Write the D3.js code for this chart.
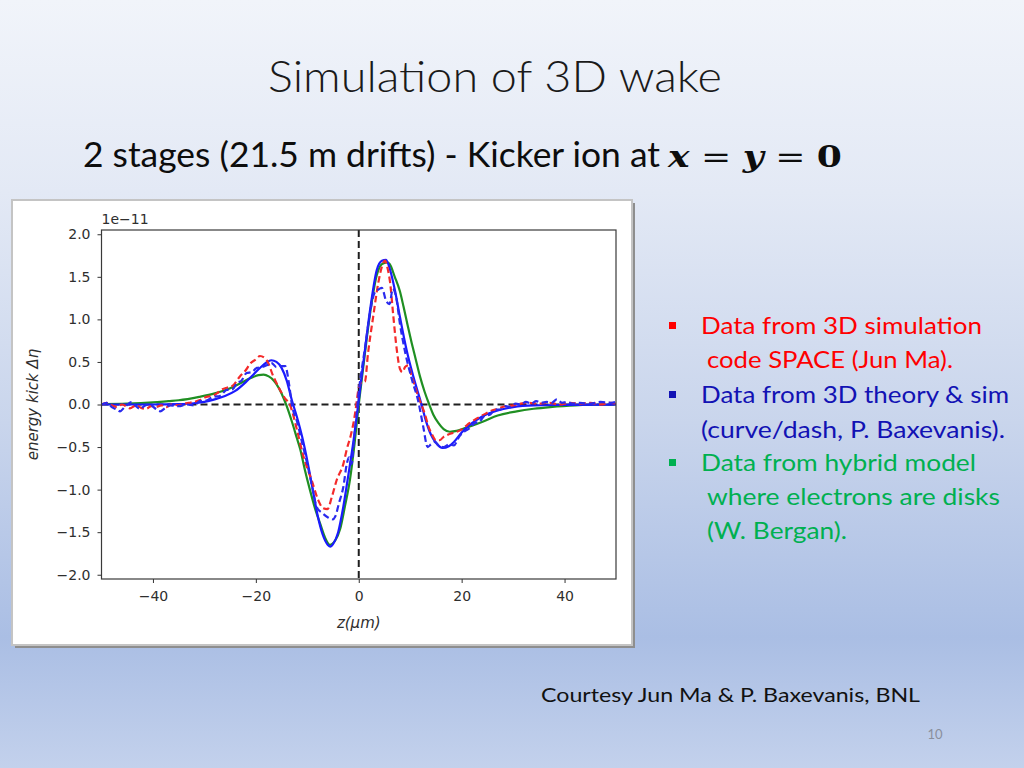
<!DOCTYPE html>
<html>
<head>
<meta charset="utf-8">
<script src="https://cdn.jsdelivr.net/npm/d3@7"></script>
<style>
  html, body { margin: 0; padding: 0; }
  body { width: 1024px; height: 768px; overflow: hidden; }
</style>
</head>
<body>
<svg id="slide" width="1024" height="768"></svg>
<script>
// ---------------- DATA ----------------
const xTicks = [-40, -20, 0, 20, 40];
const yTicks = [-2.0, -1.5, -1.0, -0.5, 0.0, 0.5, 1.0, 1.5, 2.0];

// Green solid: hybrid model (W. Bergan)
const hybridModel = [[-50,0.005],[-45,0.01],[-40,0.025],[-37,0.04],[-35,0.05],[-31,0.09],[-28,0.13],[-25,0.19],[-23,0.25],[-21,0.31],[-19.5,0.345],[-18.5,0.35],[-17.5,0.33],[-16.5,0.28],[-16,0.24],[-15,0.13],[-14,-0.02],[-13,-0.2],[-12,-0.4],[-11.4,-0.52],[-10.5,-0.76],[-9.5,-1.0],[-8.5,-1.22],[-7.5,-1.4],[-6.5,-1.57],[-5.6,-1.65],[-4.6,-1.6],[-3.6,-1.46],[-2.7,-1.2],[-1.7,-0.88],[-0.8,-0.45],[0,0.0],[0.5,0.25],[1.2,0.6],[2.2,1.07],[3.5,1.52],[4.5,1.65],[5.5,1.67],[6,1.65],[7,1.5],[8,1.33],[8.7,1.15],[9.5,0.93],[10.3,0.72],[11,0.55],[11.9,0.33],[12.8,0.15],[13.7,0.0],[14.5,-0.12],[15.5,-0.22],[16.5,-0.29],[17.7,-0.32],[19,-0.31],[20.5,-0.28],[22,-0.25],[24.2,-0.2],[27,-0.13],[30.7,-0.08],[34,-0.05],[37.2,-0.03],[42,-0.01],[50,0.0]];

// Blue solid: 3D theory (P. Baxevanis)
const theoryCurve = [[-50,0],[-45,0],[-40,0],[-35,0.005],[-32,0.015],[-30,0.03],[-28,0.06],[-26,0.1],[-24,0.16],[-22,0.26],[-20.5,0.35],[-19,0.44],[-18,0.49],[-17,0.52],[-16,0.5],[-15,0.43],[-14,0.28],[-13,0.05],[-12,-0.15],[-11,-0.38],[-10,-0.66],[-9,-0.98],[-8,-1.3],[-7,-1.53],[-6,-1.65],[-5.5,-1.67],[-5,-1.64],[-4,-1.5],[-3,-1.2],[-2,-0.82],[-1,-0.42],[-0.1,0.0],[0.5,0.3],[1.2,0.64],[2.2,1.11],[3.5,1.58],[4.5,1.69],[5.3,1.7],[6.1,1.58],[7,1.35],[8,1.03],[9.3,0.64],[10.6,0.33],[12.2,0.0],[13,-0.18],[14,-0.35],[15,-0.45],[16.3,-0.51],[17.5,-0.49],[18.5,-0.44],[20,-0.33],[22,-0.22],[24,-0.14],[27,-0.07],[30,-0.03],[34,-0.01],[40,-0.005],[50,0]];

// Red dashed: 3D simulation code SPACE (Jun Ma)
const spaceSim = [[-50,0],[-49,0.02],[-48,-0.01],[-47,-0.03],[-46,0],[-45,-0.03],[-44.5,-0.045],[-43.3,-0.01],[-42.3,-0.04],[-41.3,-0.05],[-40.3,-0.02],[-39.4,-0.03],[-38.4,-0.01],[-37.4,-0.03],[-36.4,0],[-35,-0.01],[-34,0.01],[-33,0.02],[-32,0.03],[-31,0.05],[-29.6,0.09],[-28.5,0.1],[-27.6,0.13],[-26.5,0.18],[-25.5,0.2],[-24.5,0.22],[-23.1,0.33],[-22,0.4],[-21.1,0.48],[-20,0.53],[-19.2,0.57],[-17.9,0.52],[-16.6,0.33],[-15.3,0.17],[-14.3,0.07],[-13.4,0],[-12,-0.3],[-10.8,-0.6],[-9.1,-0.9],[-7.9,-1.12],[-6.9,-1.22],[-6.1,-1.23],[-5.2,-1.08],[-4.3,-0.89],[-3,-0.7],[-2.3,-0.52],[-1.5,-0.35],[-0.7,-0.1],[-0.3,0.08],[0,0.2],[0.5,0.26],[1.2,0.27],[1.8,0.6],[2.8,1.03],[3.8,1.43],[4.5,1.62],[5.1,1.69],[5.6,1.6],[6.1,1.43],[6.7,1.05],[7.4,0.64],[8,0.42],[8.5,0.38],[9,0.44],[9.6,0.46],[10.3,0.33],[11,0.2],[11.6,0.09],[12.3,-0.02],[12.9,-0.12],[13.5,-0.25],[14.3,-0.36],[15,-0.42],[15.7,-0.42],[16.5,-0.38],[17.5,-0.35],[18.5,-0.33],[19.5,-0.31],[20.5,-0.27],[21.5,-0.22],[22.5,-0.18],[24,-0.13],[25.5,-0.08],[27,-0.05],[28.5,-0.02],[30,-0.01],[31.5,0.01],[33,0.02],[35,0.01],[37,0.02],[39,0.0],[41,0.02],[43,0.01],[45,0.02],[47,0.0],[49,0.02],[50,0.01]];

// Blue dashed: 3D simulation (P. Baxevanis)
const theorySim = [[-50,0],[-49,0.02],[-48,-0.03],[-47,-0.06],[-46.4,-0.08],[-45.5,-0.03],[-44.1,0.03],[-43.3,-0.02],[-42.5,-0.05],[-41.5,-0.01],[-40.6,0],[-39.5,-0.05],[-38.6,-0.08],[-37.6,-0.04],[-36.7,-0.01],[-35,-0.02],[-33.5,0],[-32,-0.01],[-30.9,0.04],[-29.5,0.05],[-28.3,0.09],[-27,0.1],[-25.7,0.17],[-24.5,0.18],[-23.7,0.25],[-22.8,0.28],[-21.8,0.37],[-20.8,0.38],[-19.8,0.43],[-18.8,0.44],[-17.9,0.46],[-17,0.49],[-16,0.44],[-15.2,0.45],[-14.3,0.45],[-13.5,0.22],[-13,0],[-12,-0.2],[-11,-0.45],[-10,-0.7],[-9,-0.98],[-8.2,-1.2],[-7,-1.28],[-5.9,-1.33],[-5,-1.35],[-4.6,-1.32],[-3.8,-1.15],[-3,-0.97],[-2.3,-0.69],[-1.9,-0.62],[-1.4,-0.7],[-0.9,-0.4],[-0.4,-0.1],[0,0.15],[0.6,0.42],[1.2,0.66],[2.2,1.08],[3,1.3],[3.8,1.35],[4.5,1.37],[5.3,1.22],[6,1.18],[6.6,1.36],[7.3,1.25],[8,0.95],[9,0.62],[10.3,0.3],[11.6,0.03],[12.5,-0.25],[13.4,-0.5],[14,-0.47],[14.8,-0.44],[15.5,-0.48],[16.5,-0.5],[17.5,-0.47],[18.5,-0.48],[19.5,-0.38],[20.5,-0.32],[21.5,-0.28],[22.5,-0.22],[23.5,-0.2],[24.5,-0.13],[25.5,-0.12],[26.5,-0.06],[27.5,-0.06],[28.5,-0.02],[29.5,-0.03],[30.5,0.01],[31.5,0],[32.5,0.03],[33.5,0.01],[34.5,0.04],[35.5,0.02],[36.5,0.03],[37.5,0.02],[38.5,0.06],[39.5,0.02],[40.5,0.03],[41.5,0.01],[43,0.02],[45,0.01],[47,0.03],[49,0.02],[50,0.03]];

const legendLines = [
  {text: "Data from 3D simulation", color: "#ff0000", bullet: true},
  {text: "code SPACE (Jun Ma).", color: "#ff0000", bullet: false},
  {text: "Data from 3D theory & sim", color: "#1212b4", bullet: true},
  {text: "(curve/dash, P. Baxevanis).", color: "#1212b4", bullet: false},
  {text: "Data from hybrid model", color: "#00b050", bullet: true},
  {text: "where electrons are disks", color: "#00b050", bullet: false},
  {text: "(W. Bergan).", color: "#00b050", bullet: false}
];

// ---------------- DRAW ----------------
const svg = d3.select("#slide");
const defs = svg.append("defs");

const grad = defs.append("linearGradient").attr("id", "bg").attr("x1", 0).attr("y1", 0).attr("x2", 0).attr("y2", 1);
[["0%", "#f1f4fa"], ["25%", "#e3e9f5"], ["55%", "#c9d5ec"], ["83%", "#aabee4"], ["100%", "#c3d1ec"]]
  .forEach(([o, c]) => grad.append("stop").attr("offset", o).attr("stop-color", c));
svg.append("rect").attr("width", 1024).attr("height", 768).attr("fill", "url(#bg)");

// Title
svg.append("text").attr("x", 268).attr("y", 92)
  .attr("font-family", "Lato, 'Open Sans', sans-serif").attr("font-weight", 300)
  .attr("font-size", 44).attr("fill", "#1a1a1a")
  .attr("textLength", 454).attr("lengthAdjust", "spacingAndGlyphs")
  .text("Simulation of 3D wake");

// Subtitle
svg.append("text").attr("x", 83).attr("y", 167)
  .attr("font-family", "Lato, 'Open Sans', sans-serif")
  .attr("font-size", 34).attr("fill", "#0d0d0d")
  .attr("textLength", 577).attr("lengthAdjust", "spacingAndGlyphs")
  .text("2 stages (21.5 m drifts) - Kicker ion at");
const math = svg.append("text").attr("x", 668).attr("y", 167)
  .attr("font-family", "'DejaVu Serif', 'Liberation Serif', serif")
  .attr("font-size", 29).attr("fill", "#0d0d0d")
  .attr("textLength", 174).attr("lengthAdjust", "spacingAndGlyphs");
math.append("tspan").attr("font-weight", "bold").attr("font-style", "italic").text("x");
math.append("tspan").text(" = ");
math.append("tspan").attr("font-weight", "bold").attr("font-style", "italic").text("y");
math.append("tspan").text(" = ");
math.append("tspan").attr("font-weight", "bold").text("0");

// Plot panel (picture frame)
svg.append("rect").attr("x", 15).attr("y", 203).attr("width", 620).attr("height", 445).attr("fill", "#8e8e8e");
svg.append("rect").attr("x", 12).attr("y", 200).attr("width", 620).attr("height", 445)
  .attr("fill", "#ffffff").attr("stroke", "#c4c4c4").attr("stroke-width", 2);

// Axes
const px0 = 101.5, px1 = 616, py0 = 230, py1 = 579;
const x = d3.scaleLinear().domain([-50, 50]).range([px0, px1]);
const y = d3.scaleLinear().domain([-2.05, 2.05]).range([py1, py0]);

defs.append("clipPath").attr("id", "plotclip").append("rect")
  .attr("x", px0).attr("y", py0).attr("width", px1 - px0).attr("height", py1 - py0);

const minus = s => s.replace("-", "\u2212");
const tickFont = "'DejaVu Sans', sans-serif";

const gx = svg.append("g").attr("transform", `translate(0,${py1})`)
  .call(d3.axisBottom(x).tickValues(xTicks).tickSizeOuter(0).tickSize(4).tickPadding(8)
    .tickFormat(d => minus(d3.format("d")(d))));
const gy = svg.append("g").attr("transform", `translate(${px0},0)`)
  .call(d3.axisLeft(y).tickValues(yTicks).tickSizeOuter(0).tickSize(4).tickPadding(7)
    .tickFormat(d => minus(d3.format(".1f")(d))));
[gx, gy].forEach(g => {
  g.select(".domain").remove();
  g.selectAll("line").attr("stroke", "#333").attr("stroke-width", 1);
  g.selectAll("text").attr("font-family", tickFont).attr("font-size", 14).attr("fill", "#2e2e2e");
});

// zero lines
const zl = svg.append("g").attr("clip-path", "url(#plotclip)");
zl.append("line").attr("x1", x(-50)).attr("x2", x(50)).attr("y1", y(0)).attr("y2", y(0))
  .attr("stroke", "#1e1e1e").attr("stroke-width", 2).attr("stroke-dasharray", "7,4");
zl.append("line").attr("x1", x(0)).attr("x2", x(0)).attr("y1", y(2.05)).attr("y2", y(-2.05))
  .attr("stroke", "#1e1e1e").attr("stroke-width", 2).attr("stroke-dasharray", "7,4");

// curves
const line = d3.line().x(d => x(d[0])).y(d => y(d[1])).curve(d3.curveMonotoneX);
const curves = svg.append("g").attr("clip-path", "url(#plotclip)").attr("fill", "none");
const series = [
  {data: hybridModel, color: "#1f8f22", dash: null},
  {data: theoryCurve, color: "#1a1aff", dash: null},
  {data: spaceSim, color: "#f42a2a", dash: "6.5,3.5"},
  {data: theorySim, color: "#2a2aee", dash: "6.5,3.5"}
];
series.forEach(s => {
  curves.append("path").attr("d", line(s.data))
    .attr("stroke", s.color).attr("stroke-width", 2.2)
    .attr("stroke-dasharray", s.dash).attr("stroke-linejoin", "round");
});

// frame
svg.append("rect").attr("x", px0).attr("y", py0).attr("width", px1 - px0).attr("height", py1 - py0)
  .attr("fill", "none").attr("stroke", "#3a3a3a").attr("stroke-width", 1.2);

// offset text & axis labels
svg.append("text").attr("x", px0).attr("y", 224)
  .attr("font-family", tickFont).attr("font-size", 14).attr("fill", "#2e2e2e")
  .text("1e\u221211");
svg.append("text").attr("transform", `translate(38,${(py0 + py1) / 2}) rotate(-90)`)
  .attr("text-anchor", "middle").attr("font-family", tickFont).attr("font-style", "italic")
  .attr("font-size", 15).attr("fill", "#2e2e2e")
  .text("energy kick \u0394\u03b7");
svg.append("text").attr("x", x(0)).attr("y", 628).attr("text-anchor", "middle")
  .attr("font-family", tickFont).attr("font-style", "italic")
  .attr("font-size", 15).attr("fill", "#2e2e2e")
  .text("z(\u03bcm)");

// Legend text block
const lgX = [701, 707, 701, 701, 701, 707, 707];
const lgW = [281, 246, 308, 304, 275, 293, 140];
const lgY = [334, 368, 403, 438, 471, 505, 539];
const lg = svg.append("g");
legendLines.forEach((l, i) => {
  if (l.bullet) {
    lg.append("rect").attr("x", 669).attr("y", lgY[i] - 12).attr("width", 7).attr("height", 7).attr("fill", l.color);
  }
  lg.append("text").attr("x", lgX[i]).attr("y", lgY[i])
    .attr("font-family", "Lato, 'Open Sans', sans-serif").attr("font-size", 24)
    .attr("fill", l.color)
    .attr("textLength", lgW[i]).attr("lengthAdjust", "spacingAndGlyphs")
    .text(l.text);
});

// Credits & page number
svg.append("text").attr("x", 541).attr("y", 702)
  .attr("font-family", "Lato, 'Open Sans', sans-serif").attr("font-size", 20).attr("fill", "#111")
  .attr("textLength", 379).attr("lengthAdjust", "spacingAndGlyphs")
  .text("Courtesy Jun Ma & P. Baxevanis, BNL");
svg.append("text").attr("x", 935).attr("y", 739).attr("text-anchor", "middle")
  .attr("font-family", "Lato, 'Open Sans', sans-serif").attr("font-size", 13).attr("fill", "#8a8f9c")
  .text("10");
</script>
</body>
</html>
